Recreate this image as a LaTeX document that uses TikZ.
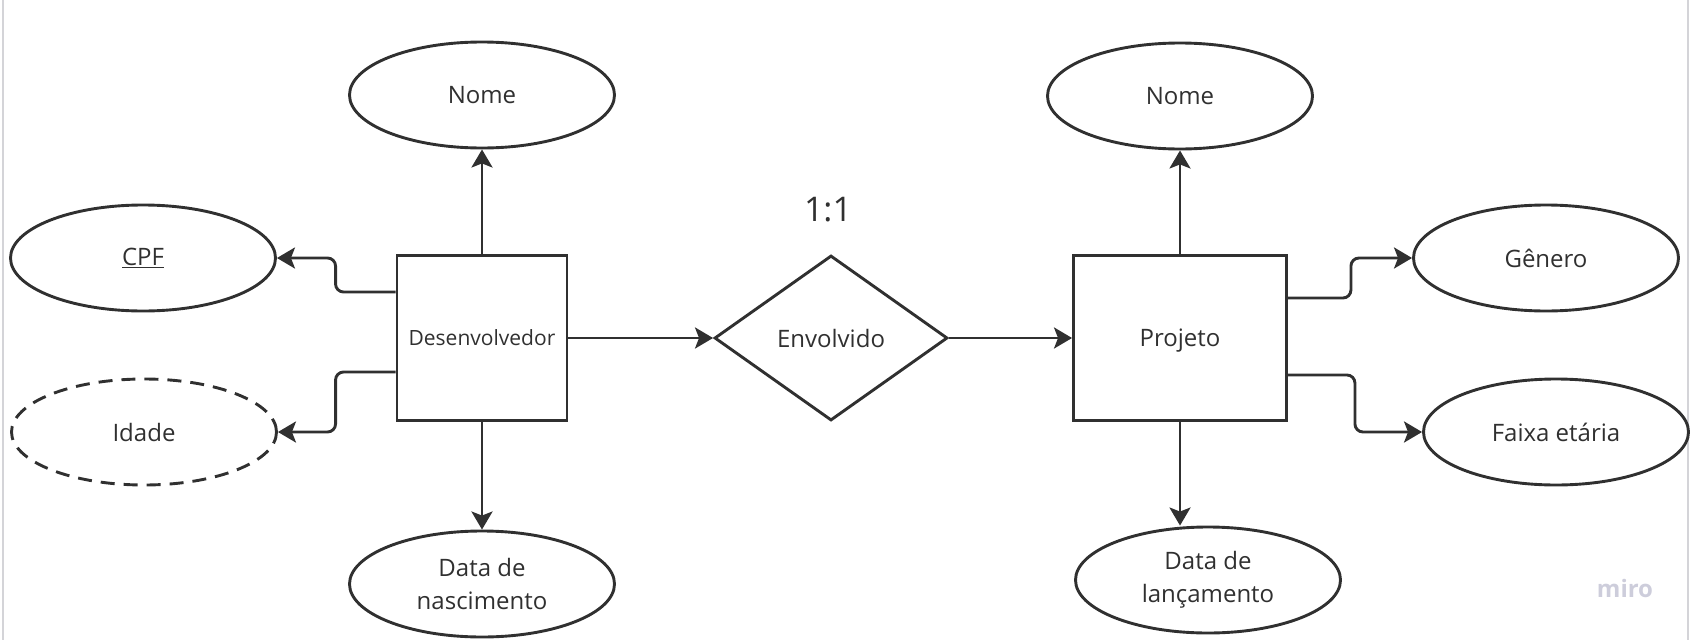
\documentclass[tikz,border=0pt]{standalone}
\usepackage{fontspec}
\setmainfont{Open Sans}
\usetikzlibrary{shapes.geometric, arrows.meta}
\definecolor{traco}{HTML}{303030}
\definecolor{marca}{HTML}{CDCDDB}
\definecolor{moldura}{HTML}{D4D4D8}

\begin{document}
\begin{tikzpicture}[x = 1pt, y = -1pt, line width = 2.9pt,
    atributo/.style = {shape = ellipse, draw = traco, minimum width = 265pt, minimum height = 106pt, inner sep = 0pt, text = traco, font = \fontsize{24}{33}\selectfont, align = center},
    entidade/.style = {shape = rectangle, draw = traco, minimum height = 165pt, text depth = 0pt, text = traco, font = \fontsize{24}{30}\selectfont},
    relacao/.style = {shape = diamond, draw = traco, minimum width = 233pt, minimum height = 165pt, inner sep = 0pt, text = traco, font = \fontsize{24}{30}\selectfont},
    seta/.style = {draw = traco, -{Stealth[length = 18pt, width = 21pt, inset = 4pt]}, rounded corners = 8pt}]
    \useasboundingbox (0,0) rectangle (1690,640);
    \draw[moldura, line width = 1.5pt] (3,0) -- (3,640);
    \draw[moldura, line width = 1.5pt] (1688,0) -- (1688,640);
    % entidades e relacao
    \node[entidade, minimum width = 170pt, font = \fontsize{21}{26}\selectfont] (dev) at (482,338) {Desenvolvedor};
    \node[relacao] (env) at (831,338) {Envolvido};
    \node[entidade, minimum width = 213pt] (proj) at (1180,338) {Projeto};
    \node[text = traco, font = \fontsize{34}{40}\selectfont] (card) at (828,210) {1:1};
    % atributos
    \node[atributo] (devnome) at (482,95) {Nome};
    \node[atributo] (cpf) at (143,258) {\underline{CPF}};
    \node[atributo, dash pattern = on 14pt off 9pt] (idade) at (144,432) {Idade};
    \node[atributo] (dnasc) at (482,584) {Data de\\nascimento};
    \node[atributo] (projnome) at (1180,96) {Nome};
    \node[atributo] (genero) at (1546,258) {Gênero};
    \node[atributo] (faixa) at (1556,432) {Faixa etária};
    \node[atributo] (dlanc) at (1208,580) {Data de\\lançamento};
    \node[text = marca, font = \fontsize{24}{28}\selectfont\bfseries] (miro) at (1625,588) {miro};
    % ligacoes
    \draw[seta] (dev.north) -- (devnome.south);
    \draw[seta] (dev.south) -- (dnasc.north);
    \draw[seta] ([yshift = 46pt]dev.west) -- ++(-60,0) |- (cpf.east);
    \draw[seta] ([yshift = -34pt]dev.west) -- ++(-60,0) |- (idade.east);
    \draw[seta] (dev.east) -- (env.west);
    \draw[seta] (env.east) -- (proj.west);
    \draw[seta] (proj.north) -- (projnome.south);
    \draw[seta] (proj.south) -- (proj.south |- dlanc.north);
    \draw[seta] ([yshift = 40pt]proj.east) -- ++(63,0) |- (genero.west);
    \draw[seta] ([yshift = -37pt]proj.east) -- ++(67,0) |- (faixa.west);
\end{tikzpicture}
\end{document}
